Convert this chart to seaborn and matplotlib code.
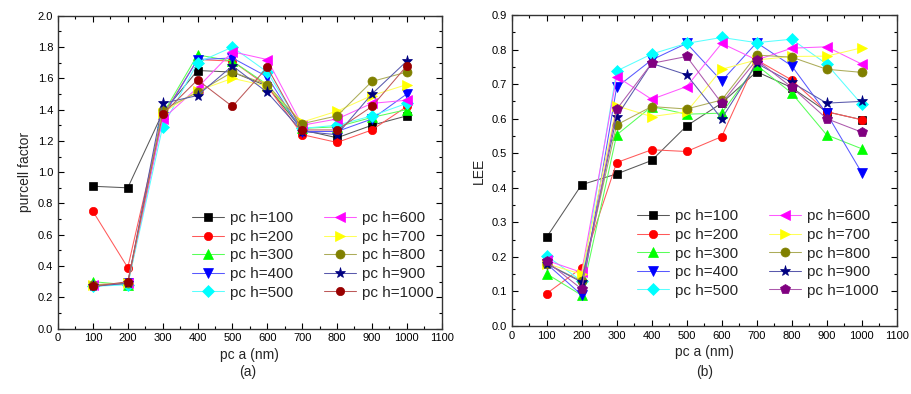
import numpy as np
import matplotlib
matplotlib.use('Agg')
import matplotlib.pyplot as plt
import matplotlib.colors as mcolors
import seaborn as sns
from matplotlib.ticker import MultipleLocator

# pc a (nm) values, shared by both panels
pc_a = [100, 200, 300, 400, 500, 600, 700, 800, 900, 1000]
labels = ['pc h=100', 'pc h=200', 'pc h=300', 'pc h=400', 'pc h=500',
          'pc h=600', 'pc h=700', 'pc h=800', 'pc h=900', 'pc h=1000']

# (a) purcell factor
purcell_h100 = [0.91, 0.90, 1.38, 1.65, 1.64, 1.55, 1.27, 1.22, 1.30, 1.36]
purcell_h200 = [0.75, 0.39, 1.36, 1.72, 1.71, 1.55, 1.24, 1.19, 1.27, 1.42]
purcell_h300 = [0.30, 0.28, 1.37, 1.75, 1.71, 1.56, 1.28, 1.29, 1.35, 1.40]
purcell_h400 = [0.27, 0.29, 1.35, 1.72, 1.73, 1.61, 1.26, 1.26, 1.34, 1.50]
purcell_h500 = [0.27, 0.28, 1.29, 1.70, 1.80, 1.64, 1.28, 1.30, 1.36, 1.44]
purcell_h600 = [0.28, 0.29, 1.34, 1.54, 1.77, 1.72, 1.30, 1.34, 1.44, 1.46]
purcell_h700 = [0.28, 0.29, 1.38, 1.52, 1.60, 1.55, 1.32, 1.39, 1.49, 1.56]
purcell_h800 = [0.28, 0.29, 1.40, 1.51, 1.64, 1.56, 1.31, 1.36, 1.58, 1.64]
purcell_h900 = [0.27, 0.29, 1.44, 1.49, 1.68, 1.51, 1.26, 1.24, 1.50, 1.71]
purcell_h1000 = [0.27, 0.30, 1.37, 1.59, 1.42, 1.67, 1.27, 1.27, 1.42, 1.68]

# (b) LEE
lee_h100 = [0.257, 0.409, 0.440, 0.479, 0.579, 0.645, 0.736, 0.690, 0.620, 0.597]
lee_h200 = [0.094, 0.168, 0.473, 0.510, 0.505, 0.548, 0.770, 0.712, 0.620, 0.597]
lee_h300 = [0.151, 0.089, 0.553, 0.635, 0.613, 0.616, 0.755, 0.674, 0.553, 0.513]
lee_h400 = [0.180, 0.090, 0.691, 0.770, 0.818, 0.709, 0.820, 0.753, 0.615, 0.444]
lee_h500 = [0.203, 0.130, 0.738, 0.787, 0.818, 0.835, 0.820, 0.830, 0.758, 0.642]
lee_h600 = [0.190, 0.155, 0.722, 0.656, 0.693, 0.818, 0.770, 0.804, 0.808, 0.758]
lee_h700 = [0.180, 0.150, 0.637, 0.606, 0.620, 0.743, 0.770, 0.780, 0.781, 0.805]
lee_h800 = [0.180, 0.130, 0.582, 0.635, 0.628, 0.654, 0.784, 0.778, 0.743, 0.734]
lee_h900 = [0.180, 0.127, 0.606, 0.760, 0.727, 0.600, 0.760, 0.705, 0.645, 0.650]
lee_h1000 = [0.187, 0.107, 0.627, 0.760, 0.780, 0.645, 0.770, 0.691, 0.600, 0.561]

purcell = [purcell_h100, purcell_h200, purcell_h300, purcell_h400, purcell_h500,
           purcell_h600, purcell_h700, purcell_h800, purcell_h900, purcell_h1000]
lee = [lee_h100, lee_h200, lee_h300, lee_h400, lee_h500,
       lee_h600, lee_h700, lee_h800, lee_h900, lee_h1000]

colors_a = ['black', '#ff0000', '#00ff00', '#0000ff', '#00ffff',
            '#ff00ff', '#ffff00', '#808000', '#000080', '#990000']
colors_b = colors_a[:9] + ['#800080']
markers_a = ['s', 'o', '^', 'v', 'D', '<', '>', 'o', '*', 'o']
markers_b = markers_a[:9] + ['p']
msizes_a = [5.5, 6, 6.5, 6.5, 6, 6.5, 6.5, 6.5, 8, 6]
msizes_b = msizes_a[:9] + [7.5]

sns.set_style('ticks')
plt.rcParams['font.family'] = ['Liberation Sans', 'DejaVu Sans']

fig = plt.figure(figsize=(9.12, 3.94), dpi=100)
ax1 = fig.add_axes([0.0636, 0.166, 0.4207, 0.794])
ax2 = fig.add_axes([0.561, 0.1726, 0.4222, 0.7893])


def pale(c, f=0.35):
    r, g, b = mcolors.to_rgb(c)
    return (r + (1 - r) * f, g + (1 - g) * f, b + (1 - b) * f)


def draw(ax, series, colors, markers, sizes):
    for vals, lab, c, m, ms in zip(series, labels, colors, markers, sizes):
        sns.lineplot(x=pc_a, y=vals, ax=ax, color=pale(c), marker=m,
                     markersize=ms, markerfacecolor=c, markeredgecolor=c,
                     markeredgewidth=0.5, linewidth=0.75, label=lab)
    ax.set_xlim(0, 1100)
    ax.xaxis.set_major_locator(MultipleLocator(100))
    ax.xaxis.set_minor_locator(MultipleLocator(50))
    ax.tick_params(which='both', direction='in', top=True, right=True,
                   labelsize=8, colors='black')
    ax.tick_params(which='major', length=4, width=0.8)
    ax.tick_params(which='minor', length=2, width=0.8)
    for s in ax.spines.values():
        s.set_linewidth(1.0)
        s.set_color('#333333')
    ax.set_xlabel('pc a (nm)', fontsize=10, labelpad=3)


draw(ax1, purcell, colors_a, markers_a, msizes_a)
ax1.set_ylim(0, 2.0)
ax1.yaxis.set_major_locator(MultipleLocator(0.2))
ax1.yaxis.set_minor_locator(MultipleLocator(0.1))
ax1.yaxis.set_major_formatter('{x:.1f}')
ax1.set_ylabel('purcell factor', fontsize=10, labelpad=4)

draw(ax2, lee, colors_b, markers_b, msizes_b)
ax2.set_ylim(0, 0.9)
ax2.yaxis.set_major_locator(MultipleLocator(0.1))
ax2.yaxis.set_minor_locator(MultipleLocator(0.05))
ax2.yaxis.set_major_formatter('{x:.1f}')
ax2.set_ylabel('LEE', fontsize=10, labelpad=4)

for ax, anchor in [(ax1, (0.35, 0.375)), (ax2, (0.325, 0.375))]:
    ax.legend(ncol=2, frameon=False, loc='upper left', bbox_to_anchor=anchor,
              borderaxespad=0, borderpad=0, fontsize=11, handlelength=2.1,
              handletextpad=0.4, columnspacing=2.0, labelspacing=0.3)

fig.text(0.272, 0.045, '(a)', ha='center', fontsize=10)
fig.text(0.773, 0.045, '(b)', ha='center', fontsize=10)

fig.savefig('out.png', dpi=100)
